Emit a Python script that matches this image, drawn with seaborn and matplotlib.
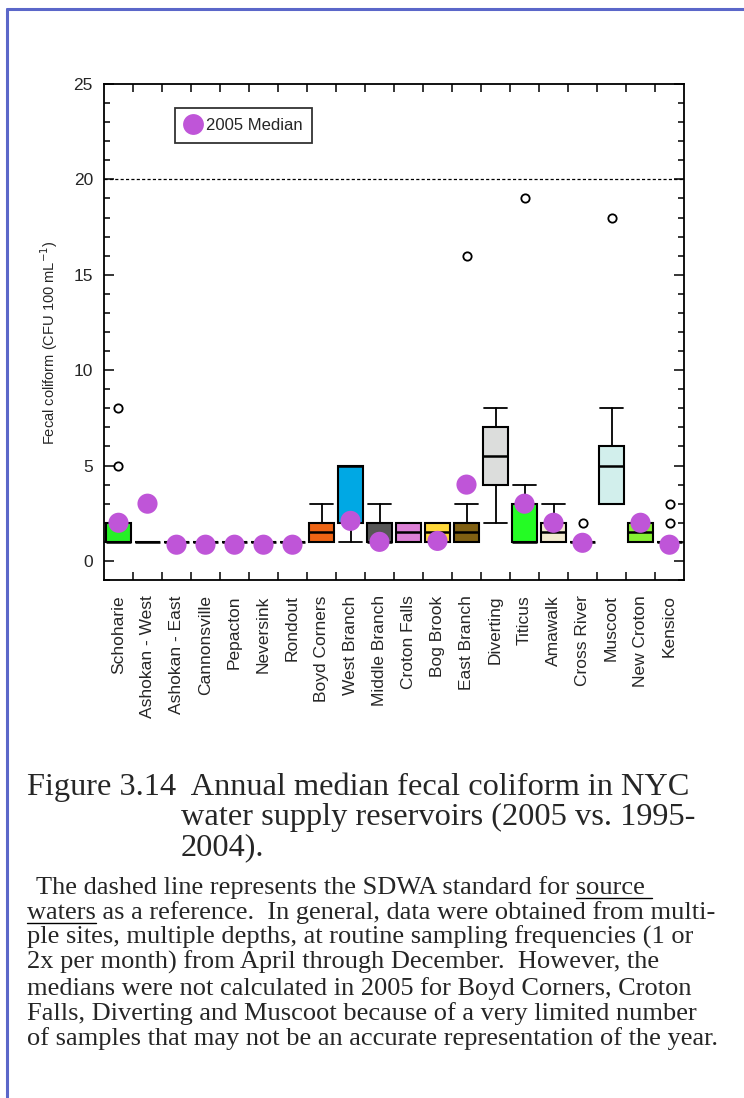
import numpy as np
import pandas as pd
import matplotlib
matplotlib.use("Agg")
import matplotlib.pyplot as plt
from matplotlib.lines import Line2D
import seaborn as sns

# Reservoirs, in plotting order
reservoirs = ["Schoharie", "Ashokan - West", "Ashokan - East", "Cannonsville",
              "Pepacton", "Neversink", "Rondout", "Boyd Corners", "West Branch",
              "Middle Branch", "Croton Falls", "Bog Brook", "East Branch",
              "Diverting", "Titicus", "Amawalk", "Cross River", "Muscoot",
              "New Croton", "Kensico"]

# 1995-2004 distribution of annual medians (CFU 100 mL-1)
q1 =      [1, 1, 1, 1, 1, 1, 1, 1,   2, 1, 1,   1,   1,   4,   1, 1,   1, 3, 1,   1]
median =  [1, 1, 1, 1, 1, 1, 1, 1.5, 5, 1, 1.5, 1.5, 1.5, 5.5, 1, 1.5, 1, 5, 1.5, 1]
q3 =      [2, 1, 1, 1, 1, 1, 1, 2,   5, 2, 2,   2,   2,   7,   3, 2,   1, 6, 2,   1]
whislo =  [1, 1, 1, 1, 1, 1, 1, 1,   1, 1, 1,   1,   1,   2,   1, 1,   1, 3, 1,   1]
whishi =  [2, 1, 1, 1, 1, 1, 1, 3,   5, 3, 2,   2,   3,   8,   4, 3,   1, 8, 2,   1]
outliers = [[5, 8], [], [], [], [], [], [], [], [], [], [], [], [16], [], [19],
            [], [2], [18], [], [2, 3]]

# 2005 medians (NaN = not calculated)
median_2005 = [2, 3, 0.85, 0.85, 0.85, 0.85, 0.85, np.nan, 2.1, 1, np.nan, 1.05,
               4, np.nan, 3, 2, 0.95, np.nan, 2, 0.85]

box_colors = ["#26f026", "white", "white", "white", "white", "white", "white",
              "#ee6414", "#00a8e4", "#565656", "#dc80d6", "#ffd83a", "#806012",
              "#dcdddc", "#24fc24", "#f3ebd0", "white", "#d2efec", "#86f032",
              "white"]

sns.set_theme(style="ticks")
plt.rcParams["font.family"] = ["Liberation Sans", "DejaVu Sans"]

fig = plt.figure(figsize=(7.44, 10.98), dpi=100)
W, H = 744, 1098
ax = fig.add_axes([104 / W, 1 - 580 / H, 580 / W, 496 / H])

positions = np.arange(len(reservoirs))
stats = []
for i, name in enumerate(reservoirs):
    stats.append(dict(label=name, q1=q1[i], med=median[i], q3=q3[i],
                      whislo=whislo[i], whishi=whishi[i],
                      fliers=np.array(outliers[i], dtype=float)))

parts = ax.bxp(stats, positions=positions, widths=0.86, capwidths=0.78,
               patch_artist=True, manage_ticks=False,
               boxprops=dict(edgecolor="black", linewidth=1.5),
               medianprops=dict(color="black", linewidth=1.8),
               whiskerprops=dict(color="black", linewidth=1.3),
               capprops=dict(color="black", linewidth=1.3),
               flierprops=dict(marker="o", markersize=6, markerfacecolor="white",
                               markeredgecolor="black", markeredgewidth=1.3))
for patch, c in zip(parts["boxes"], box_colors):
    patch.set_facecolor(c)

# SDWA reference line
ax.axhline(20, color="black", linewidth=0.9, linestyle=(0, (2.5, 1.8)), zorder=1)

# 2005 medians
dots = pd.DataFrame({"pos": positions, "value": median_2005}).dropna()
dot_color = "#bf55d8"
sns.scatterplot(data=dots, x="pos", y="value", ax=ax, s=210, color=dot_color,
                edgecolor="none", linewidth=0, zorder=6, legend=False)

ax.set_xlim(-0.5, len(reservoirs) - 0.5)
ax.set_ylim(-1, 25)
ax.set_xlabel("")
ax.set_ylabel("Fecal coliform (CFU 100 mL$^{-1}$)", fontsize=10.5)
ax.yaxis.set_label_coords(-0.076, 0.478)

ax.set_yticks([0, 5, 10, 15, 20, 25])
ax.set_yticks(np.arange(-1, 26, 1), minor=True)
ax.tick_params(axis="y", which="both", direction="in", left=True, right=True,
               labelsize=12.5, pad=8, width=1.1, color="black")
ax.tick_params(axis="y", which="major", length=7)
ax.tick_params(axis="y", which="minor", length=4)

ax.set_xticks(positions)
ax.set_xticklabels(reservoirs, rotation=90, fontsize=12.5, va="top", ha="center")
ax.set_xticks(np.arange(0.5, len(reservoirs) - 1, 1), minor=True)
ax.tick_params(axis="x", which="major", length=0, pad=11)
ax.tick_params(axis="x", which="minor", direction="in", top=True, bottom=True,
               length=6, width=1.1, color="black")

for sp in ax.spines.values():
    sp.set_visible(True)
    sp.set_linewidth(1.3)
    sp.set_color("black")

handle = Line2D([], [], marker="o", linestyle="none", markersize=15,
                markerfacecolor=dot_color, markeredgecolor="none")
leg = ax.legend([handle], ["2005 Median"], loc="upper left",
                bbox_to_anchor=(0.122, 0.952), borderaxespad=0, frameon=True,
                fancybox=False, fontsize=12, handlelength=1.0,
                handletextpad=0.25, borderpad=0.6)
leg.get_frame().set_edgecolor("black")
leg.get_frame().set_linewidth(1.3)

# Page border
border = "#5b67c9"
fig.add_artist(Line2D([7 / W, 1.0], [1 - 9 / H, 1 - 9 / H], color=border,
                      linewidth=2.2, transform=fig.transFigure))
fig.add_artist(Line2D([7 / W, 7 / W], [1 - 9 / H, 0], color=border,
                      linewidth=2.2, transform=fig.transFigure))

serif = ["Liberation Serif", "DejaVu Serif"]

# Figure caption
cap_size = 23.3
fig.text(27 / W, 1 - 795 / H, "Figure 3.14  Annual median fecal coliform in NYC",
         fontsize=cap_size, family=serif, va="baseline", ha="left")
fig.text(181 / W, 1 - 825 / H, "water supply reservoirs (2005 vs. 1995-",
         fontsize=cap_size, family=serif, va="baseline", ha="left")
fig.text(181 / W, 1 - 855 / H, "2004).",
         fontsize=cap_size, family=serif, va="baseline", ha="left")

# Explanatory note
note_lines = [
    "The dashed line represents the SDWA standard for source ",
    "waters as a reference.  In general, data were obtained from multi-",
    "ple sites, multiple depths, at routine sampling frequencies (1 or",
    "2x per month) from April through December.  However, the",
    "medians were not calculated in 2005 for Boyd Corners, Croton",
    "Falls, Diverting and Muscoot because of a very limited number",
    "of samples that may not be an accurate representation of the year.",
]
note_size = 19
baselines = [894, 919, 944, 969, 995, 1020, 1045]
renderer = fig.canvas.get_renderer()
note_texts = []
for k, (line, yb) in enumerate(zip(note_lines, baselines)):
    x0 = 36 if k == 0 else 27
    t = fig.text(x0 / W, 1 - yb / H, line, fontsize=note_size, family=serif,
                 va="baseline", ha="left")
    note_texts.append(t)


def text_width(s):
    tmp = fig.text(0, 0, s, fontsize=note_size, family=serif)
    w = tmp.get_window_extent(renderer).width
    tmp.remove()
    return w


# underline "source" (end of line 1) and "waters" (start of line 2)
full1 = note_texts[0].get_window_extent(renderer)
prefix_w = text_width("The dashed line represents the SDWA standard for")
space_w = text_width("a a") - text_width("aa")
src_w = text_width("source")
ux0 = full1.x0 + prefix_w + space_w
fig.add_artist(Line2D([ux0 / W, (ux0 + src_w + space_w) / W],
                      [1 - (baselines[0] + 4) / H] * 2, color="black",
                      linewidth=1.0, transform=fig.transFigure))
wat_w = text_width("waters")
fig.add_artist(Line2D([27 / W, (27 + wat_w) / W],
                      [1 - (baselines[1] + 4) / H] * 2, color="black",
                      linewidth=1.0, transform=fig.transFigure))

fig.savefig("out.png", dpi=100, facecolor="white")
